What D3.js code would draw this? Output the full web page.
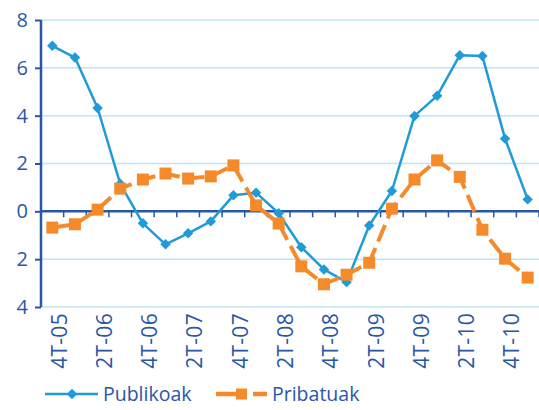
<!DOCTYPE html>
<html>
<head>
<meta charset="utf-8">
<script src="https://cdn.jsdelivr.net/npm/d3@7"></script>
<style>
  body { margin: 0; background: #fff; }
  svg { display: block; font-family: "Open Sans", sans-serif; }
</style>
</head>
<body>
<svg id="chart" width="539" height="410"></svg>
<script>
// quarters 4T-05 .. 1T-11
const categories = [
  '4T-05', '1T-06', '2T-06', '3T-06', '4T-06', '1T-07', '2T-07', '3T-07',
  '4T-07', '1T-08', '2T-08', '3T-08', '4T-08', '1T-09', '2T-09', '3T-09',
  '4T-09', '1T-10', '2T-10', '3T-10', '4T-10', '1T-11'
];
const publikoak = [
  6.92, 6.43, 4.32, 1.15, -0.5, -1.38, -0.92, -0.42,
  0.67, 0.78, -0.08, -1.5, -2.43, -2.96, -0.59, 0.85,
  3.99, 4.83, 6.53, 6.49, 3.04, 0.5
];
const pribatuak = [
  -0.68, -0.54, 0.07, 0.95, 1.33, 1.58, 1.37, 1.46,
  1.92, 0.25, -0.51, -2.3, -3.05, -2.65, -2.15, 0.11,
  1.33, 2.13, 1.44, -0.77, -1.98, -2.77
];
const yTicks = [-4, -2, 0, 2, 4, 6, 8];
const seriesNames = ['Publikoak', 'Pribatuak'];

const axisColor = '#2957a4';
const gridColor = '#bfe6f7';
const blue = '#1f9bd7';
const orange = '#f58a2b';

const svg = d3.select('#chart');
const plot = { left: 41, right: 539, top: 20, bottom: 307 };

const x = d3.scaleBand().domain(categories).range([plot.left, plot.right]);
const y = d3.scaleLinear().domain([-4, 8]).range([plot.bottom, plot.top]);
const cx = d => x(d) + x.bandwidth() / 2;

// gridlines
svg.append('g')
  .selectAll('line')
  .data(yTicks.filter(t => t !== 0))
  .join('line')
  .attr('x1', plot.left).attr('x2', plot.right)
  .attr('y1', d => y(d)).attr('y2', d => y(d))
  .attr('stroke', gridColor)
  .attr('stroke-width', 1.5);

// y axis
const yAxis = svg.append('g')
  .attr('transform', `translate(${plot.left},0)`)
  .call(d3.axisLeft(y).tickValues(yTicks).tickSize(6).tickPadding(7)
    .tickFormat(d => Math.abs(d)));
yAxis.select('.domain').remove();
yAxis.selectAll('.tick line').attr('stroke', axisColor).attr('stroke-width', 2);
yAxis.selectAll('.tick text')
  .attr('fill', axisColor)
  .attr('font-size', 20)
  .attr('font-weight', 500)
  .attr('font-family', '"Open Sans", sans-serif');
svg.append('line')
  .attr('x1', plot.left).attr('x2', plot.left)
  .attr('y1', plot.top).attr('y2', plot.bottom)
  .attr('stroke', axisColor).attr('stroke-width', 2.5);

// zero line with category boundary ticks
svg.append('line')
  .attr('x1', plot.left).attr('x2', plot.right)
  .attr('y1', y(0)).attr('y2', y(0))
  .attr('stroke', axisColor).attr('stroke-width', 2.5);
svg.append('g')
  .selectAll('line')
  .data(categories)
  .join('line')
  .attr('x1', d => x(d) + x.bandwidth())
  .attr('x2', d => x(d) + x.bandwidth())
  .attr('y1', y(0)).attr('y2', y(0) + 6)
  .attr('stroke', axisColor).attr('stroke-width', 1.5);

// x labels (every other quarter)
svg.append('g')
  .selectAll('text')
  .data(categories.filter((d, i) => i % 2 === 0))
  .join('text')
  .attr('transform', d => `translate(${cx(d) + 7},${plot.bottom + 6}) rotate(-90)`)
  .attr('text-anchor', 'end')
  .attr('dy', '0.35em')
  .attr('font-size', 21)
  .attr('font-weight', 500)
  .attr('letter-spacing', 0.3)
  .attr('fill', axisColor)
  .text(d => d);

// series
const line = d3.line().x(d => cx(d[0])).y(d => y(d[1]));
const pubData = categories.map((c, i) => [c, publikoak[i]]);
const priData = categories.map((c, i) => [c, pribatuak[i]]);

svg.append('path')
  .datum(pubData)
  .attr('d', line)
  .attr('fill', 'none')
  .attr('stroke', blue)
  .attr('stroke-width', 2.5)
  .attr('stroke-linejoin', 'round');

const diamond = d3.symbol().type(d3.symbolDiamond2).size(70);
svg.append('g')
  .selectAll('path')
  .data(pubData)
  .join('path')
  .attr('d', diamond)
  .attr('transform', d => `translate(${cx(d[0])},${y(d[1])})`)
  .attr('fill', blue);

svg.append('path')
  .datum(priData)
  .attr('d', line)
  .attr('fill', 'none')
  .attr('stroke', orange)
  .attr('stroke-width', 4)
  .attr('stroke-dasharray', '18,7');

svg.append('g')
  .selectAll('rect')
  .data(priData)
  .join('rect')
  .attr('x', d => cx(d[0]) - 6)
  .attr('y', d => y(d[1]) - 6)
  .attr('width', 12)
  .attr('height', 12)
  .attr('fill', orange);

// legend
const leg = svg.append('g').attr('transform', 'translate(0,394)');
leg.append('line')
  .attr('x1', 45).attr('x2', 98)
  .attr('stroke', blue).attr('stroke-width', 2.5);
leg.append('path')
  .attr('d', diamond)
  .attr('transform', 'translate(72,0)')
  .attr('fill', blue);
leg.append('text')
  .attr('x', 103).attr('dy', '0.35em')
  .attr('font-size', 19.5)
  .attr('font-weight', 500)
  .attr('fill', axisColor)
  .text(seriesNames[0]);

leg.append('line')
  .attr('x1', 216).attr('x2', 247)
  .attr('stroke', orange).attr('stroke-width', 4.5);
leg.append('line')
  .attr('x1', 253).attr('x2', 267)
  .attr('stroke', orange).attr('stroke-width', 4.5);
leg.append('rect')
  .attr('x', 236).attr('y', -5.5)
  .attr('width', 11).attr('height', 11)
  .attr('fill', orange);
leg.append('text')
  .attr('x', 272).attr('dy', '0.35em')
  .attr('font-size', 19.5)
  .attr('font-weight', 500)
  .attr('fill', axisColor)
  .text(seriesNames[1]);
</script>
</body>
</html>
